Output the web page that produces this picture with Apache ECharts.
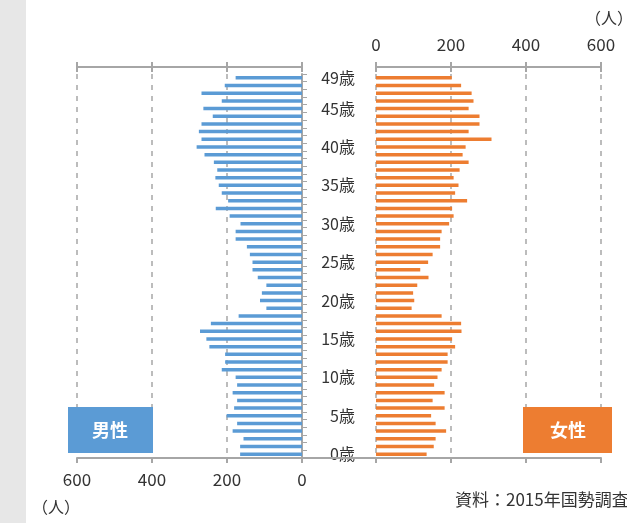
<!DOCTYPE html>
<html>
<head>
<meta charset="utf-8">
<script src="https://cdn.jsdelivr.net/npm/echarts@6/dist/echarts.min.js"></script>
<style>
html,body{margin:0;padding:0;background:#fff;}
#c{width:627px;height:523px;}
</style>
</head>
<body>
<div id="c"></div>
<script>
// Ages 0..49 (bottom to top)
var ages = [];
for (var a = 0; a <= 49; a++) ages.push(a + '歳');

// Male population by age 0..49
var male = [165,165,156,185,173,201,181,173,185,173,
            177,214,205,205,247,255,272,243,169,95,
            112,107,95,118,132,132,139,147,177,177,
            164,193,230,197,214,222,231,226,235,260,
            281,268,275,268,238,263,214,268,206,177];
// Female population by age 0..49
var female = [135,154,159,187,159,147,183,151,183,155,
              164,175,191,191,211,203,228,227,175,95,
              102,99,110,140,118,139,151,171,171,175,
              195,207,203,243,211,220,207,223,247,231,
              239,308,247,276,276,247,260,255,227,202];
var valueTicks = [0, 200, 400, 600];

var FONT = '"Noto Sans CJK JP","Noto Sans",sans-serif';
var GRAY = '#a6a6a6';
var TXT = '#333333';

var chart = echarts.init(document.getElementById('c'));

function valAxis(grid, pos, opts) {
  var base = {
    type: 'value', gridIndex: grid, position: pos,
    min: valueTicks[0], max: valueTicks[valueTicks.length - 1], interval: 200,
    axisLine: {show: true, lineStyle: {color: GRAY, width: 2}},
    axisTick: {show: true, length: 5, lineStyle: {color: GRAY, width: 2}},
    axisLabel: {show: false},
    splitLine: {show: false}
  };
  for (var k in opts) base[k] = opts[k];
  return base;
}

chart.setOption({
  animation: false,
  backgroundColor: '#ffffff',
  grid: [
    {left: 77, width: 225, top: 74, height: 384},
    {left: 376, width: 225, top: 74, height: 384}
  ],
  xAxis: [
    // male bottom (labels)
    valAxis(0, 'bottom', {
      inverse: true,
      axisLabel: {show: true, margin: 13, fontSize: 17, color: TXT, fontFamily: FONT},
      splitLine: {show: true, lineStyle: {color: GRAY, type: [5, 6], width: 1.5}}
    }),
    // male top
    valAxis(0, 'top', {inverse: true, offset: 7}),
    // female top (labels)
    valAxis(1, 'top', {
      offset: 7,
      axisLabel: {show: true, margin: 14, fontSize: 17, color: TXT, fontFamily: FONT}
    }),
    // female bottom
    valAxis(1, 'bottom', {
      splitLine: {show: true, lineStyle: {color: GRAY, type: [5, 6], width: 1.5}}
    }),
    // inner tick halves of the top axes
    valAxis(0, 'top', {inverse: true, offset: 7, axisLine: {show: false},
      axisTick: {show: true, inside: true, length: 5, lineStyle: {color: GRAY, width: 2}}}),
    valAxis(1, 'top', {offset: 7, axisLine: {show: false},
      axisTick: {show: true, inside: true, length: 5, lineStyle: {color: GRAY, width: 2}}})
  ],
  yAxis: [
    {
      type: 'category', gridIndex: 0, position: 'right', data: ages,
      axisLine: {show: true, lineStyle: {color: GRAY, width: 2}},
      axisTick: {show: true, interval: 0, length: 5, lineStyle: {color: GRAY, width: 1}},
      axisLabel: {show: false},
      splitLine: {show: false}
    },
    {
      type: 'category', gridIndex: 1, position: 'left', data: ages,
      axisLine: {show: false},
      axisTick: {show: false},
      axisLabel: {
        show: true, margin: 21, fontSize: 16, color: TXT, fontFamily: FONT,
        interval: function (i) { return i % 5 === 0 || i === 49; }
      },
      splitLine: {show: false}
    }
  ],
  series: [
    {
      name: '男性', type: 'bar', xAxisIndex: 0, yAxisIndex: 0,
      data: male, barWidth: 3.5, itemStyle: {color: '#5b9bd5'}
    },
    {
      name: '女性', type: 'bar', xAxisIndex: 3, yAxisIndex: 1,
      data: female, barWidth: 3.5, itemStyle: {color: '#ed7d31'}
    }
  ],
  graphic: [
    {type: 'rect', left: 0, top: 0, shape: {width: 26, height: 523}, style: {fill: '#e7e7e7'}, silent: true},
    {type: 'line', shape: {x1: 302, y1: 458, x2: 376, y2: 458}, style: {stroke: GRAY, lineWidth: 2}, z: 10},
    {type: 'rect', shape: {x: 68, y: 407, width: 85, height: 46}, style: {fill: '#5b9bd5'}, z: 10},
    {type: 'text', x: 110, y: 430, style: {text: '男性', fill: '#fff', font: 'bold 18px ' + FONT, textAlign: 'center', textVerticalAlign: 'middle'}, z: 11},
    {type: 'rect', shape: {x: 523, y: 407, width: 89, height: 46}, style: {fill: '#ed7d31'}, z: 10},
    {type: 'text', x: 568, y: 430, style: {text: '女性', fill: '#fff', font: 'bold 18px ' + FONT, textAlign: 'center', textVerticalAlign: 'middle'}, z: 11},
    {type: 'text', x: 609, y: 18, style: {text: '（人）', fill: TXT, font: '16px ' + FONT, textAlign: 'center', textVerticalAlign: 'middle'}},
    {type: 'text', x: 56, y: 507, style: {text: '（人）', fill: TXT, font: '16px ' + FONT, textAlign: 'center', textVerticalAlign: 'middle'}},
    {type: 'text', x: 455, y: 500, style: {text: '資料：2015年国勢調査', fill: TXT, font: '17px ' + FONT, textAlign: 'left', textVerticalAlign: 'middle'}}
  ]
});
</script>
</body>
</html>
